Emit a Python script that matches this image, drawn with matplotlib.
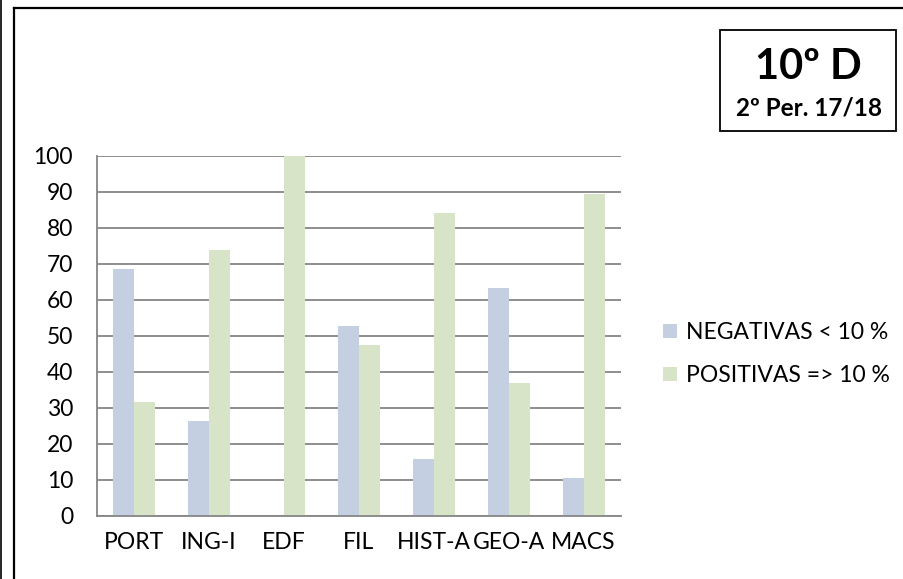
import matplotlib
matplotlib.use('Agg')
import matplotlib.pyplot as plt
import numpy as np
from matplotlib.lines import Line2D
from matplotlib.patches import Rectangle

plt.rcParams['font.family'] = ['Lato', 'DejaVu Sans']

# data (percentages, class of 19 students)
disciplinas = ['PORT', 'ING-I', 'EDF', 'FIL', 'HIST-A', 'GEO-A', 'MACS']
negativas = [68.4, 26.3, 0.0, 52.6, 15.8, 63.2, 10.5]
positivas = [31.6, 73.7, 100.0, 47.4, 84.2, 36.8, 89.5]
yticks = [0, 10, 20, 30, 40, 50, 60, 70, 80, 90, 100]

cor_neg = '#c4d0e2'
cor_pos = '#d8e4c8'
cor_grid = '#868686'

W, H = 904, 579
fig = plt.figure(figsize=(W / 100, H / 100), dpi=100)

# plot area
ax = fig.add_axes([96.7 / W, 1 - 515.7 / H, (621 - 96.7) / W, (515.7 - 155.7) / H])
x = np.arange(len(disciplinas))
bw = 0.28
ax.bar(x - bw / 2, negativas, bw, color=cor_neg, label='NEGATIVAS < 10 %', zorder=2)
ax.bar(x + bw / 2, positivas, bw, color=cor_pos, label='POSITIVAS => 10 %', zorder=2)

ax.set_xlim(-0.5, len(disciplinas) - 0.5)
ax.set_ylim(0, 100)
ax.set_yticks(yticks)
ax.set_xticks(x)
ax.set_xticklabels(disciplinas)
ax.tick_params(axis='y', length=0, pad=17, labelsize=16.5)
ax.tick_params(axis='x', length=0, pad=12, labelsize=16.5)
ax.yaxis.grid(True, color=cor_grid, linewidth=1.3, zorder=1)
ax.set_axisbelow(True)
for s in ['top', 'right']:
    ax.spines[s].set_visible(False)
for s in ['left', 'bottom']:
    ax.spines[s].set_color(cor_grid)
    ax.spines[s].set_linewidth(1.3)

# legend
fig.legend(loc='center left', bbox_to_anchor=(663 / W, 1 - 354 / H), frameon=False,
           fontsize=16.5, handlelength=0.6, handleheight=0.6, handletextpad=0.4,
           labelspacing=0.95, borderpad=0, borderaxespad=0)

# outer frame lines
fig.add_artist(Line2D([1.5 / W, 1.5 / W], [0, 1], transform=fig.transFigure, color='black', lw=1.2))
fig.add_artist(Line2D([14 / W, 14 / W], [0, 1 - 7.5 / H], transform=fig.transFigure, color='black', lw=1.6))
fig.add_artist(Line2D([14 / W, 1], [1 - 7.5 / H, 1 - 7.5 / H], transform=fig.transFigure, color='black', lw=1.6))

# title box
fig.add_artist(Rectangle((720 / W, 1 - 131 / H), 176 / W, 101 / H, transform=fig.transFigure,
                         facecolor='white', edgecolor='black', lw=1.3))
fig.text(808 / W, 1 - 67 / H, '10º D', ha='center', va='center', fontsize=30, fontweight='bold')
fig.text(809 / W, 1 - 108 / H, '2º Per. 17/18', ha='center', va='center', fontsize=17.5, fontweight='bold')

fig.savefig('out.png', dpi=100)
